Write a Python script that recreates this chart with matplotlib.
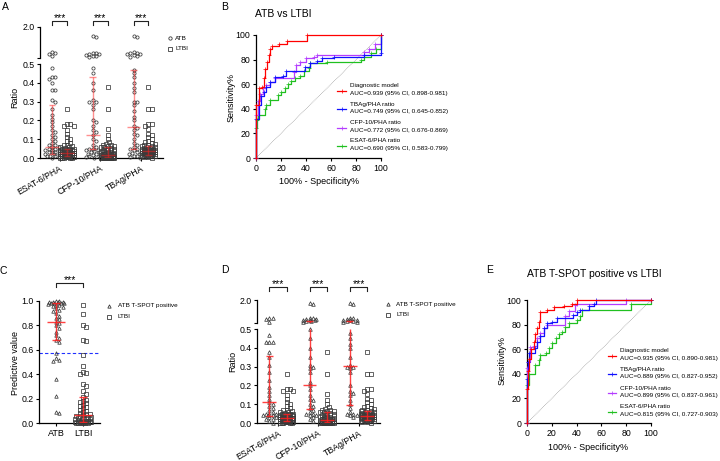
import numpy as np
import matplotlib
matplotlib.use('Agg')
import matplotlib.pyplot as plt
from matplotlib.lines import Line2D
import matplotlib.transforms as mtrans

# ── data: panel A (ATB vs LTBI ratios) ─────────────────────────────────────
groups = ["ESAT-6/PHA", "CFP-10/PHA", "TBAg/PHA"]

a_esat_atb = [0.77, 0.72, 0.68, 0.60, 0.48, 0.43, 0.43, 0.42, 0.40, 0.36, 0.36, 0.31, 0.30,
              0.26, 0.23, 0.21, 0.19, 0.17, 0.15, 0.14, 0.12, 0.11, 0.10, 0.09, 0.08, 0.07,
              0.07, 0.06, 0.06, 0.05, 0.05, 0.04, 0.04, 0.04, 0.03, 0.03, 0.03, 0.02, 0.02,
              0.02, 0.01, 0.01, 0.01, 0.005, 0.0]
a_cfp_atb = [1.55, 1.50, 0.75, 0.72, 0.70, 0.68, 0.66, 0.62, 0.60, 0.55, 0.48, 0.45, 0.40,
             0.36, 0.31, 0.30, 0.30, 0.28, 0.26, 0.20, 0.19, 0.17, 0.15, 0.14, 0.12, 0.10,
             0.09, 0.07, 0.06, 0.05, 0.05, 0.045, 0.04, 0.035, 0.03, 0.03, 0.02, 0.02, 0.015,
             0.01, 0.01, 0.005, 0.0]
a_tbag_atb = [1.55, 1.50, 0.80, 0.75, 0.72, 0.70, 0.68, 0.65, 0.60, 0.55, 0.47, 0.45, 0.43,
              0.40, 0.37, 0.35, 0.30, 0.30, 0.28, 0.25, 0.22, 0.20, 0.17, 0.16, 0.15, 0.13,
              0.12, 0.10, 0.08, 0.07, 0.06, 0.05, 0.05, 0.04, 0.03, 0.025, 0.02, 0.02, 0.01,
              0.01, 0.005, 0.0]

ltbi_esat = [0.26, 0.18, 0.18, 0.17, 0.17, 0.15, 0.13, 0.11, 0.10, 0.09, 0.08, 0.07, 0.07,
             0.065, 0.06, 0.06, 0.055, 0.05, 0.05, 0.05, 0.045, 0.04, 0.04, 0.04, 0.04, 0.035,
             0.035, 0.03, 0.03, 0.03, 0.03, 0.03, 0.025, 0.025, 0.025, 0.02, 0.02, 0.02, 0.02,
             0.02, 0.02, 0.015, 0.015, 0.015, 0.015, 0.01, 0.01, 0.01, 0.01, 0.01, 0.01, 0.008,
             0.006, 0.005, 0.005, 0.004, 0.003, 0.002, 0.001, 0.0, 0.0, 0.0]
ltbi_cfp = [0.38, 0.26, 0.155, 0.12, 0.10, 0.085, 0.075, 0.07, 0.07, 0.065, 0.065, 0.06, 0.06,
            0.055, 0.05, 0.05, 0.045, 0.04, 0.04, 0.035, 0.03, 0.03, 0.03, 0.025, 0.025, 0.02,
            0.02, 0.02, 0.02, 0.015, 0.015, 0.015, 0.015, 0.012, 0.01, 0.01, 0.01, 0.01, 0.008,
            0.008, 0.006, 0.006, 0.005, 0.005, 0.004, 0.004, 0.003, 0.003, 0.002, 0.002, 0.001,
            0.001, 0.0, 0.0, 0.0, 0.0, 0.0, 0.0, 0.0, 0.0]
ltbi_tbag = [0.38, 0.26, 0.26, 0.18, 0.18, 0.17, 0.155, 0.13, 0.12, 0.11, 0.10, 0.09, 0.085,
             0.08, 0.075, 0.07, 0.07, 0.065, 0.065, 0.06, 0.06, 0.055, 0.055, 0.05, 0.05, 0.05,
             0.045, 0.045, 0.04, 0.04, 0.04, 0.04, 0.035, 0.035, 0.035, 0.035, 0.03, 0.03, 0.03,
             0.03, 0.03, 0.025, 0.025, 0.025, 0.025, 0.02, 0.02, 0.02, 0.02, 0.02, 0.015, 0.015,
             0.015, 0.01, 0.01, 0.01, 0.008, 0.005, 0.003, 0.0]

# median / interquartile range (ATB, LTBI per antigen)
a_med = [0.06, 0.025, 0.12, 0.016, 0.167, 0.037]
a_q1 = [0.021, 0.008, 0.046, 0.004, 0.048, 0.016]
a_q3 = [0.28, 0.047, 0.433, 0.056, 0.468, 0.064]

# ── data: panel C (predictive value) ──────────────────────────────────────
c_atb = [1.0, 1.0, 0.995, 0.99, 0.99, 0.99, 0.985, 0.98, 0.98, 0.98, 0.975, 0.97, 0.97, 0.96,
         0.95, 0.94, 0.93, 0.92, 0.90, 0.88, 0.86, 0.85, 0.83, 0.82, 0.80, 0.78, 0.75, 0.72,
         0.70, 0.68, 0.66, 0.57, 0.53, 0.52, 0.51, 0.36, 0.22, 0.09, 0.08]
c_ltbi = [0.97, 0.89, 0.80, 0.79, 0.68, 0.67, 0.56, 0.47, 0.42, 0.41, 0.40, 0.32, 0.30, 0.26,
          0.24, 0.21, 0.19, 0.18, 0.17, 0.16, 0.15, 0.14, 0.13, 0.12, 0.11, 0.10, 0.09, 0.08,
          0.07, 0.07, 0.065, 0.06, 0.06, 0.05, 0.05, 0.04, 0.04, 0.03, 0.03, 0.03, 0.02, 0.02,
          0.02, 0.015, 0.01, 0.01, 0.01, 0.008, 0.006, 0.005, 0.004, 0.003, 0.002, 0.001,
          0.0, 0.0]
c_med = [0.83, 0.066]
c_q1 = [0.68, 0.005]
c_q3 = [0.985, 0.216]
c_cutoff = 0.577

# ── data: panel D (ATB T-SPOT positive vs LTBI ratios) ───────────────────
d_esat_atb = [0.85, 0.80, 0.74, 0.59, 0.47, 0.43, 0.43, 0.43, 0.38, 0.35, 0.31, 0.27, 0.23,
              0.19, 0.17, 0.15, 0.13, 0.11, 0.10, 0.09, 0.08, 0.07, 0.06, 0.05, 0.05, 0.05,
              0.04, 0.04, 0.04, 0.03, 0.03, 0.02, 0.02, 0.01, 0.0]
d_cfp_atb = [1.83, 1.74, 0.85, 0.80, 0.78, 0.75, 0.72, 0.70, 0.68, 0.65, 0.60, 0.55, 0.50,
             0.45, 0.40, 0.35, 0.31, 0.30, 0.29, 0.27, 0.22, 0.20, 0.18, 0.15, 0.13, 0.12,
             0.10, 0.09, 0.08, 0.07, 0.06, 0.05, 0.05, 0.04, 0.04, 0.03, 0.02, 0.01]
d_tbag_atb = [1.83, 1.74, 0.85, 0.80, 0.75, 0.72, 0.70, 0.68, 0.65, 0.60, 0.58, 0.55, 0.48,
              0.45, 0.42, 0.40, 0.35, 0.31, 0.30, 0.30, 0.29, 0.27, 0.20, 0.17, 0.16, 0.15,
              0.12, 0.10, 0.08, 0.06, 0.05, 0.05, 0.04, 0.04, 0.03]
d_med = [0.11, 0.025, 0.20, 0.016, 0.305, 0.037]
d_q1 = [0.036, 0.008, 0.075, 0.004, 0.095, 0.016]
d_q3 = [0.355, 0.047, 0.60, 0.056, 0.60, 0.064]

# ── data: ROC curves (100% - specificity, sensitivity) ────────────────────
roc_labels = ["Diagnostic model", "TBAg/PHA ratio", "CFP-10/PHA ratio", "ESAT-6/PHA ratio"]
roc_colors = ["#ff0000", "#1010ff", "#b43cff", "#20c020"]

b_model_x = [0, 0, 2.5, 4.5, 6, 7, 8.5, 10, 11, 12.5, 18, 24.5, 40.5, 100]
b_model_y = [0, 43, 57, 58, 65, 72, 78, 84, 89, 91, 93, 95, 100, 100]
b_tbag_x = [0, 0, 2, 4, 6, 8, 11, 15, 21.5, 24, 39, 43, 48.5, 53, 62, 86, 100, 100]
b_tbag_y = [0, 32, 43, 50, 54, 58, 62, 66, 67, 71, 74, 77, 79, 81, 82, 84, 85, 100]
b_cfp_x = [0, 0, 1.5, 3, 5.5, 8, 11, 15, 30, 32, 35, 40, 46, 48.5, 86, 90, 95, 100]
b_cfp_y = [0, 35, 46, 52, 57, 59, 62, 65, 70, 76, 78, 81, 82, 84, 86, 89, 93, 100]
b_esat_x = [0, 0, 0.5, 1.5, 7, 8, 11, 17.5, 20, 23, 25.5, 28, 31, 35, 38, 42, 43, 57, 84,
            86, 92, 96, 100]
b_esat_y = [0, 24, 31, 35, 40, 43, 47, 51, 54, 57, 60, 63, 65, 67, 71, 73, 77, 78, 80,
            82, 85, 89, 100]
b_auc = ["AUC=0.939 (95% CI, 0.898-0.981)", "AUC=0.749 (95% CI, 0.645-0.852)",
         "AUC=0.772 (95% CI, 0.676-0.869)", "AUC=0.690 (95% CI, 0.583-0.799)"]

e_model_x = [0, 0, 0.8, 2, 3.5, 5.4, 6.8, 8, 9.5, 10.8, 16, 21.6, 29.7, 36, 40.5, 100]
e_model_y = [0, 28, 42, 52, 60, 66, 72, 77, 82, 90, 92, 94, 95, 97, 100, 100]
e_tbag_x = [0, 0, 0.8, 2, 6.8, 8, 10.8, 13.5, 16, 20, 24, 37, 40, 43, 50, 54, 56, 100]
e_tbag_y = [0, 36, 50, 57, 61, 66, 71, 77, 81, 82, 85, 88, 90, 92, 95, 97, 100, 100]
e_cfp_x = [0, 0, 0.8, 2.7, 5.4, 8, 10.8, 13.5, 16, 31, 33.8, 39, 40.5, 80, 100]
e_cfp_y = [0, 45, 50, 62, 63, 69, 73, 77, 80, 87, 91, 96, 97, 100, 100]
e_esat_x = [0, 0, 1.4, 6.8, 9.5, 10.8, 15, 17.6, 20, 23, 25.7, 28.4, 31, 33.8, 40.5, 43,
            44.6, 84, 100]
e_esat_y = [0, 31, 40, 47, 51, 55, 57, 61, 65, 69, 72, 74, 78, 81, 84, 87, 92, 97, 100]
e_auc = ["AUC=0.935 (95% CI, 0.890-0.981)", "AUC=0.889 (95% CI, 0.827-0.952)",
         "AUC=0.899 (95% CI, 0.837-0.961)", "AUC=0.815 (95% CI, 0.727-0.903)"]

# ── style ──────────────────────────────────────────────────────────────────
plt.rcParams.update({
    "font.family": "Liberation Sans",
    "font.size": 6,
    "axes.linewidth": 0.9,
    "xtick.major.width": 0.8,
    "ytick.major.width": 0.8,
    "xtick.major.size": 2.5,
    "ytick.major.size": 2.5,
    "xtick.major.pad": 1.5,
    "ytick.major.pad": 1.5,
    "xtick.labelsize": 6.3,
    "ytick.labelsize": 6.3,
})
RED = "#ff2020"
PT_EDGE = "#3a3a3a"

W, H = 720, 461
fig = plt.figure(figsize=(7.2, 4.61), dpi=100)


def rect(l, t, r, b):
    return [l / W, 1 - b / H, (r - l) / W, (b - t) / H]


def fx(x):
    return x / W


def fy(y):
    return 1 - y / H


def swarm(vals, ypix, d=3.0, maxw=8.0):
    """deterministic beeswarm offsets (in pixels)"""
    ys = np.array([ypix(v) for v in vals])
    step = d * 0.55
    cands = [0.0]
    k = 1
    while k * step <= maxw:
        cands += [k * step, -k * step]
        k += 1
    placed = []
    offs = np.zeros(len(vals))
    for i in np.argsort(-ys, kind="stable"):
        best, bestd = 0.0, -1.0
        for c in cands:
            md = min((np.hypot(c - px, ys[i] - py) for px, py in placed), default=1e9)
            if md >= d:
                best = c
                break
            if md > bestd:
                best, bestd = c, md
        offs[i] = best
        placed.append((best, ys[i]))
    return offs


def key(x, y, marker, label, gap):
    fig.add_artist(Line2D([fx(x)], [fy(y)], transform=fig.transFigure, marker=marker, ms=2.4,
                          mfc="none", mec=PT_EDGE, mew=0.6, ls="none"))
    fig.text(fx(x + gap), fy(y), label, fontsize=4.6, va="center", ha="left")


def bracket(ax, x1, x2, ytop, ybot, ystar):
    tr = mtrans.blended_transform_factory(ax.transData, fig.transFigure)
    ax.plot([x1, x1, x2, x2], [fy(ybot), fy(ytop), fy(ytop), fy(ybot)], transform=tr,
            color="#222222", lw=0.8, clip_on=False)
    ax.text((x1 + x2) / 2, fy(ystar), "***", transform=tr, ha="center", va="baseline",
            fontsize=7.5)


def errbars(ax, x, med, q1, q3, alpha, hw=0.17, cw=0.085, top=None):
    kw = dict(colors=RED, lw=1.0, alpha=alpha, zorder=5)
    ax.vlines(x, q1, min(q3, 0.5) if top is not None else q3, **kw)
    ax.hlines(med, x - hw, x + hw, **kw)
    ax.hlines(q1, x - cw, x + cw, **kw)
    if top is not None and q3 > 0.5:
        top.vlines(x, 0.5, q3, **kw)
        top.hlines(q3, x - cw, x + cw, **kw)
    else:
        ax.hlines(q3, x - cw, x + cw, **kw)


def ratio_panel(box, top_px, brk_px, atb_sets, ltbi_sets, med, q1, q3, atb_marker,
                off, xlim, alpha, br_y):
    l, t05, r, b0 = box
    lo = fig.add_axes(rect(l, t05, r, b0))
    hi = fig.add_axes(rect(l, top_px, r, brk_px))
    ppu_x = (r - l) / (xlim[1] - xlim[0])
    ppu_lo = (b0 - t05) / 0.5
    ppu_hi = (brk_px - top_px) / 1.5

    def ypix(v):
        return v * ppu_lo if v <= 0.5 else (b0 - brk_px) + (v - 0.5) * ppu_hi

    for g in range(3):
        for vals, xc, mk in [(atb_sets[g], g - off, atb_marker), (ltbi_sets[g], g + off, "s")]:
            vals = np.asarray(vals, float)
            xs = xc + swarm(vals, ypix) / ppu_x
            ms = 2.6 if mk == "^" else 2.3
            for ax, m in [(lo, vals <= 0.5), (hi, vals > 0.5)]:
                ax.plot(xs[m], vals[m], ls="none", marker=mk, ms=ms, mfc="none", mec=PT_EDGE,
                        mew=0.55, clip_on=False, zorder=3)
        errbars(lo, g - off, med[2 * g], q1[2 * g], q3[2 * g], alpha, top=hi)
        errbars(lo, g + off, med[2 * g + 1], q1[2 * g + 1], q3[2 * g + 1], alpha, top=hi)
        bracket(lo, g - off, g + off, *br_y)

    for ax in (lo, hi):
        ax.set_xlim(*xlim)
        ax.spines[["top", "right"]].set_visible(False)
    lo.set_ylim(0, 0.5)
    lo.set_yticks(np.arange(0, 0.51, 0.1))
    lo.set_yticklabels([f"{v:.1f}" for v in np.arange(0, 0.51, 0.1)])
    lo.set_xticks(range(3))
    lo.set_xticklabels(groups, rotation=30, ha="right", rotation_mode="anchor", fontsize=6.3)
    hi.set_ylim(0.5, 2.0)
    hi.set_yticks([0.5, 2.0])
    hi.set_yticklabels(["", "2.0"])
    hi.spines["bottom"].set_visible(False)
    hi.set_xticks([])
    return lo, hi


def roc_panel(box, xs, ys, aucs, leg_x, leg_y0, leg_dy, title, title_xy, ylab_xy, xlab_xy):
    ax = fig.add_axes(rect(*box))
    ax.plot([0, 100], [0, 100], ls=(0, (1, 1.2)), color="#888888", lw=0.5)
    for i in [3, 2, 1, 0]:
        ax.step(xs[i], ys[i], where="post", color=roc_colors[i], lw=0.9, marker="+",
                ms=2.2, mew=0.5, clip_on=False, zorder=3 + (3 - i))
    ax.set_xlim(0, 100)
    ax.set_ylim(0, 100)
    ax.set_xticks(range(0, 101, 20))
    ax.set_yticks(range(0, 101, 20))
    ax.spines[["top", "right"]].set_visible(False)
    fig.text(fx(title_xy[0]), fy(title_xy[1]), title, fontsize=7.5, ha="center", va="center")
    fig.text(fx(ylab_xy[0]), fy(ylab_xy[1]), "Sensitivity%", fontsize=6.5, rotation=90,
             ha="center", va="center")
    fig.text(fx(xlab_xy[0]), fy(xlab_xy[1]), "100% - Specificity%", fontsize=6.5,
             ha="center", va="center")
    x1, x2, xt = leg_x
    for i in range(4):
        yt = leg_y0 + i * leg_dy
        hy = yt + 5.0
        fig.add_artist(Line2D([fx(x1), fx(x2)], [fy(hy), fy(hy)], transform=fig.transFigure,
                              color=roc_colors[i], lw=0.9))
        fig.add_artist(Line2D([fx((x1 + x2) / 2)], [fy(hy)], transform=fig.transFigure,
                              color=roc_colors[i], marker="+", ms=2.2, mew=0.5))
        fig.text(fx(xt), fy(yt), roc_labels[i], fontsize=4.6, va="center", ha="left")
        fig.text(fx(xt), fy(yt + 7.5), aucs[i], fontsize=4.6, va="center", ha="left")
    return ax


# ── Panel A ────────────────────────────────────────────────────────────────
ratio_panel((40, 64, 163, 158), 27, 58, [a_esat_atb, a_cfp_atb, a_tbag_atb],
            [ltbi_esat, ltbi_cfp, ltbi_tbag], a_med, a_q1, a_q3, "o",
            0.184, (-0.479, 2.54), 0.5, (21, 25, 20.6))
fig.text(fx(15), fy(97), "Ratio", fontsize=6.5, rotation=90, ha="center", va="center")
key(170, 38, "o", "ATB", 5)
key(170, 49, "s", "LTBI", 5)

# ── Panel B ────────────────────────────────────────────────────────────────
roc_panel((256, 35, 381, 158), [b_model_x, b_tbag_x, b_cfp_x, b_esat_x],
          [b_model_y, b_tbag_y, b_cfp_y, b_esat_y], b_auc, (337, 346, 350), 86.0, 18.3,
          "ATB vs LTBI", (283, 14), (231, 97), (319, 182))

# ── Panel C ────────────────────────────────────────────────────────────────
axc = fig.add_axes(rect(39, 301, 100, 423))
ppu_c = 122.0
for i, (vals, mk) in enumerate([(c_atb, "^"), (c_ltbi, "s")]):
    vals = np.asarray(vals, float)
    xs = i + swarm(vals, lambda v: v * ppu_c, maxw=9.0) / 27.0
    axc.plot(xs, vals, ls="none", marker=mk, ms=2.5, mfc="none", mec=PT_EDGE, mew=0.55,
             clip_on=False, zorder=3)
    errbars(axc, i, c_med[i], c_q1[i], c_q3[i], 0.85, hw=0.33, cw=0.15)
axc.axhline(c_cutoff, color="#2030ff", ls=(0, (3, 2)), lw=0.8, zorder=1)
axc.set_xlim(-0.63, 1.63)
axc.set_ylim(0, 1.0)
axc.set_yticks(np.arange(0, 1.01, 0.2))
axc.set_yticklabels([f"{v:.1f}" for v in np.arange(0, 1.01, 0.2)])
axc.set_xticks([0, 1])
axc.set_xticklabels(["ATB", "LTBI"], fontsize=6.5)
axc.spines[["top", "right"]].set_visible(False)
bracket(axc, 0, 1, 283, 287, 283)
fig.text(fx(15), fy(363), "Predictive value", fontsize=6.5, rotation=90, ha="center",
         va="center")
key(109, 306, "^", "ATB T-SPOT positive", 9)
key(109, 317, "s", "LTBI", 9)

# ── Panel D ────────────────────────────────────────────────────────────────
ratio_panel((257, 329, 380, 423), 300, 323, [d_esat_atb, d_cfp_atb, d_tbag_atb],
            [ltbi_esat, ltbi_cfp, ltbi_tbag], d_med, d_q1, d_q3, "^",
            0.216, (-0.52, 2.53), 0.85, (287, 291, 286.6))
fig.text(fx(233), fy(361), "Ratio", fontsize=6.5, rotation=90, ha="center", va="center")
key(388, 304, "^", "ATB T-SPOT positive", 8)
key(388, 315, "s", "LTBI", 8)

# ── Panel E ────────────────────────────────────────────────────────────────
roc_panel((527, 300, 651, 423), [e_model_x, e_tbag_x, e_cfp_x, e_esat_x],
          [e_model_y, e_tbag_y, e_cfp_y, e_esat_y], e_auc, (608, 616, 620), 350.7, 18.7,
          "ATB T-SPOT positive vs LTBI", (594, 274), (502, 360), (588, 447))

# panel letters
for letter, (x, y) in zip("ABCDE", [(5, 7), (225, 7), (3, 271), (225, 270), (490, 270)]):
    fig.text(fx(x), fy(y), letter, fontsize=7.5, ha="center", va="center")

fig.savefig("out.png", dpi=100)
